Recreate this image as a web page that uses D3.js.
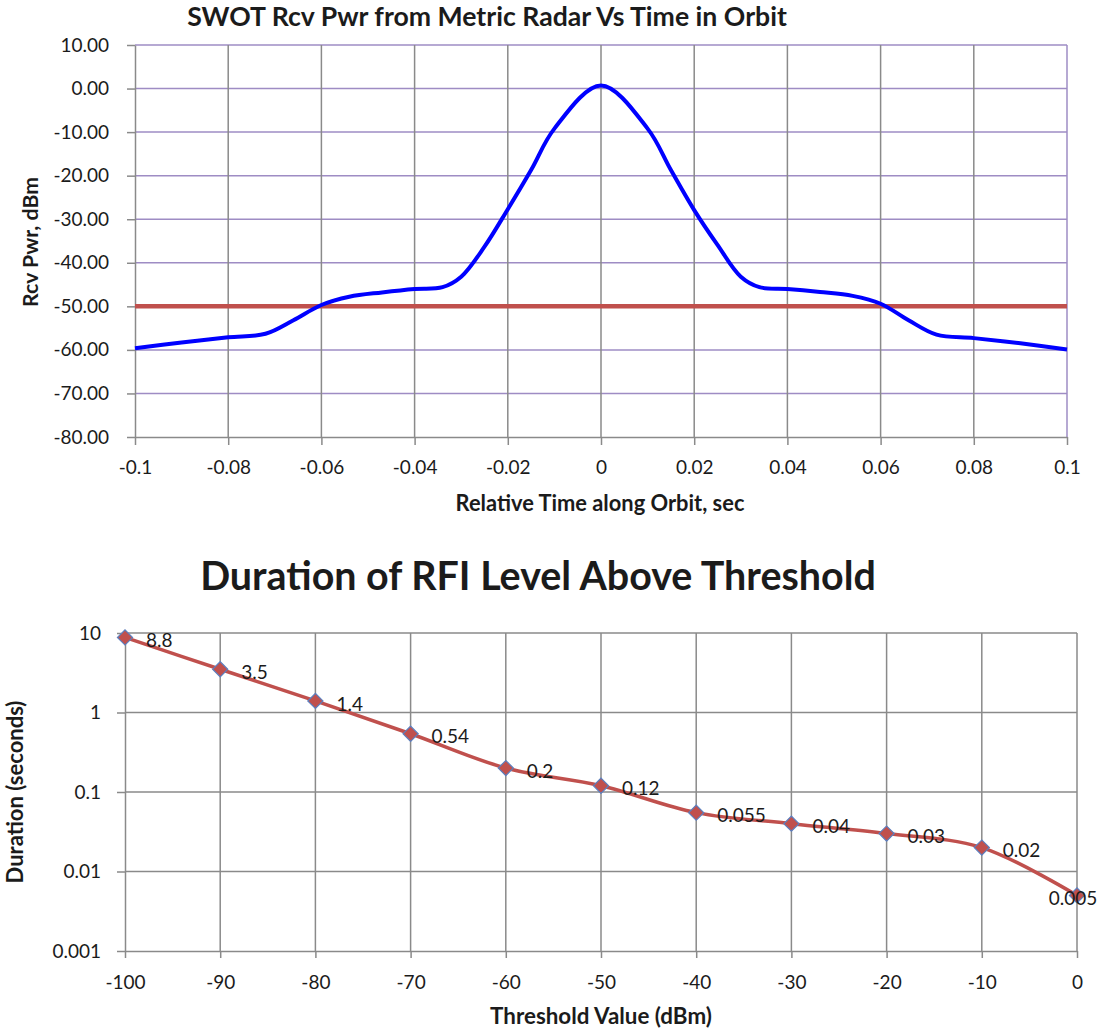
<!DOCTYPE html>
<html>
<head>
<meta charset="utf-8">
<script src="https://cdn.jsdelivr.net/npm/d3@7"></script>
<style>
body { margin: 0; background: #fff; }
text { font-family: Lato, "Noto Sans", sans-serif; fill: #1b1b1b; }
</style>
</head>
<body>
<svg id="chart" width="1104" height="1034"></svg>
<script>
// ---- top chart: received power vs time ----
var timeSec = [-0.1, -0.09, -0.08, -0.072, -0.066, -0.06, -0.054, -0.047, -0.04, -0.034, -0.03, -0.025, -0.02, -0.015, -0.01, 0,
	0.01, 0.015, 0.02, 0.025, 0.03, 0.034, 0.04, 0.047, 0.054, 0.06, 0.066, 0.072, 0.08, 0.09, 0.1];
var rcvPwr = [-59.6, -58.3, -57.1, -56.3, -53.2, -49.7, -47.8, -46.8, -46.0, -45.6, -43.2, -36.3, -27.7, -18.7, -9.2, 0.7,
	-9.2, -18.7, -27.9, -35.9, -43.2, -45.6, -46.0, -46.7, -47.6, -49.4, -53.2, -56.5, -57.3, -58.5, -59.9];
var thresholdTime = [-0.1, 0.1];
var thresholdPwr = [-50, -50];
var timeTicks = [-0.1, -0.08, -0.06, -0.04, -0.02, 0, 0.02, 0.04, 0.06, 0.08, 0.1];
var pwrTicks = [10, 0, -10, -20, -30, -40, -50, -60, -70, -80];

// ---- bottom chart: duration above threshold ----
var thresholdVals = [-100, -90, -80, -70, -60, -50, -40, -30, -20, -10, 0];
var durations = [8.8, 3.5, 1.4, 0.54, 0.2, 0.12, 0.055, 0.04, 0.03, 0.02, 0.005];
var durationLabels = ["8.8", "3.5", "1.4", "0.54", "0.2", "0.12", "0.055", "0.04", "0.03", "0.02", "0.005"];
var thresholdTicks = [-100, -90, -80, -70, -60, -50, -40, -30, -20, -10, 0];
var durationTicks = [10, 1, 0.1, 0.01, 0.001];
var durationTickLabels = ["10", "1", "0.1", "0.01", "0.001"];

var svg = d3.select("#chart");
var gridGray = "#8a8a8a";
var gridPurple = "#9e8cc4";
var fontSize = 19;

// scale a text's font so it spans a given width
function fitWidth(sel, w) {
	var len = sel.node().getComputedTextLength();
	var fs = parseFloat(sel.attr("font-size"));
	sel.attr("font-size", fs * w / len);
}

function styleAxis(g) {
	g.select(".domain").attr("stroke", gridGray).attr("stroke-width", 1.5);
	g.selectAll(".tick line").attr("stroke", gridGray).attr("stroke-width", 1.5);
	g.selectAll(".tick text").attr("font-size", fontSize).attr("fill", "#1b1b1b")
		.style("font-family", "Lato, 'Noto Sans', sans-serif");
}

/* ===================== TOP CHART ===================== */
var x1 = d3.scaleLinear().domain([-0.1, 0.1]).range([135, 1067]);
var y1 = d3.scaleLinear().domain([-80, 10]).range([437, 45]);

var gTop = svg.append("g");

// horizontal grid (purple)
gTop.selectAll(".hgrid").data(pwrTicks.filter(function (d) { return d != -80; }))
	.enter().append("line")
	.attr("x1", x1(-0.1)).attr("x2", x1(0.1))
	.attr("y1", function (d) { return y1(d); }).attr("y2", function (d) { return y1(d); })
	.attr("stroke", gridPurple).attr("stroke-width", 1.5);

// vertical grid (gray)
gTop.selectAll(".vgrid").data(timeTicks.filter(function (d) { return d != -0.1 && d != 0.1; }))
	.enter().append("line")
	.attr("x1", function (d) { return x1(d); }).attr("x2", function (d) { return x1(d); })
	.attr("y1", y1(10)).attr("y2", y1(-80))
	.attr("stroke", gridGray).attr("stroke-width", 1.5);

// right border
gTop.append("line")
	.attr("x1", x1(0.1)).attr("x2", x1(0.1)).attr("y1", y1(10)).attr("y2", y1(-80))
	.attr("stroke", gridPurple).attr("stroke-width", 1.5);

var yAx1 = gTop.append("g").attr("transform", "translate(" + x1(-0.1) + ",0)")
	.call(d3.axisLeft(y1).tickValues(pwrTicks).tickSize(8).tickSizeOuter(0).tickPadding(18)
		.tickFormat(function (d) { return d.toFixed(2); }));
styleAxis(yAx1);

var xAx1 = gTop.append("g").attr("transform", "translate(0," + y1(-80) + ")")
	.call(d3.axisBottom(x1).tickValues(timeTicks).tickSize(8).tickSizeOuter(0).tickPadding(16)
		.tickFormat(function (d) { return String(d); }));
styleAxis(xAx1);

// threshold line
var lineT = d3.line().x(function (d) { return x1(d[0]); }).y(function (d) { return y1(d[1]); });
gTop.append("path")
	.datum(d3.zip(thresholdTime, thresholdPwr))
	.attr("d", lineT)
	.attr("fill", "none").attr("stroke", "#c0504d").attr("stroke-width", 4.5);

// power curve
var lineP = d3.line().curve(d3.curveCatmullRom.alpha(0.5))
	.x(function (d) { return x1(d[0]); }).y(function (d) { return y1(d[1]); });
gTop.append("path")
	.datum(d3.zip(timeSec, rcvPwr))
	.attr("d", lineP)
	.attr("fill", "none").attr("stroke", "#0000ff").attr("stroke-width", 4)
	.attr("stroke-linejoin", "round");

var t1 = gTop.append("text").attr("x", 487).attr("y", 26).attr("text-anchor", "middle")
	.attr("font-weight", "bold").attr("font-size", 22)
	.text("SWOT Rcv Pwr from Metric Radar Vs Time in Orbit");
fitWidth(t1, 600);

var xl1 = gTop.append("text").attr("x", 600).attr("y", 511).attr("text-anchor", "middle")
	.attr("font-weight", "bold").attr("font-size", 17)
	.text("Relative Time along Orbit, sec");
fitWidth(xl1, 289);

var yl1 = gTop.append("text").attr("transform", "translate(38,242) rotate(-90)").attr("text-anchor", "middle")
	.attr("font-weight", "bold").attr("font-size", 17)
	.text("Rcv Pwr, dBm");
fitWidth(yl1, 130);

/* ===================== BOTTOM CHART ===================== */
var x2 = d3.scaleLinear().domain([-100, 0]).range([125, 1077]);
var y2 = d3.scaleLog().domain([0.001, 10]).range([951, 633]);

var gBot = svg.append("g");

gBot.selectAll(".hgrid").data(durationTicks.filter(function (d) { return d != 0.001; }))
	.enter().append("line")
	.attr("x1", x2(-100)).attr("x2", x2(0))
	.attr("y1", function (d) { return y2(d); }).attr("y2", function (d) { return y2(d); })
	.attr("stroke", gridGray).attr("stroke-width", 1.5);

gBot.selectAll(".vgrid").data(thresholdTicks.filter(function (d) { return d != -100; }))
	.enter().append("line")
	.attr("x1", function (d) { return x2(d); }).attr("x2", function (d) { return x2(d); })
	.attr("y1", y2(10)).attr("y2", y2(0.001))
	.attr("stroke", gridGray).attr("stroke-width", 1.5);

var yAx2 = gBot.append("g").attr("transform", "translate(" + x2(-100) + ",0)")
	.call(d3.axisLeft(y2).tickValues(durationTicks).tickSize(8).tickSizeOuter(0).tickPadding(16)
		.tickFormat(function (d, i) { return durationTickLabels[i]; }));
styleAxis(yAx2);

var xAx2 = gBot.append("g").attr("transform", "translate(0," + y2(0.001) + ")")
	.call(d3.axisBottom(x2).tickValues(thresholdTicks).tickSize(7).tickSizeOuter(0).tickPadding(18)
		.tickFormat(function (d) { return String(d); }));
styleAxis(xAx2);

var pts = d3.zip(thresholdVals, durations);
var lineD = d3.line().curve(d3.curveCatmullRom.alpha(0.5))
	.x(function (d) { return x2(d[0]); }).y(function (d) { return y2(d[1]); });
gBot.append("path").datum(pts).attr("d", lineD)
	.attr("fill", "none").attr("stroke", "#c0504d").attr("stroke-width", 3.5);

gBot.selectAll(".mark").data(pts).enter().append("path")
	.attr("d", d3.symbol().type(d3.symbolSquare).size(115))
	.attr("transform", function (d) { return "translate(" + x2(d[0]) + "," + y2(d[1]) + ") rotate(45)"; })
	.attr("fill", "#c0504d").attr("stroke", "#5b7fbf").attr("stroke-width", 1.2);

gBot.selectAll(".lbl").data(pts).enter().append("text")
	.attr("x", function (d, i) { return i == pts.length - 1 ? x2(d[0]) - 4 : x2(d[0]) + 21; })
	.attr("y", function (d) { return y2(d[1]) + 3; })
	.attr("dy", "0.35em")
	.attr("text-anchor", function (d, i) { return i == pts.length - 1 ? "middle" : "start"; })
	.attr("font-size", fontSize)
	.text(function (d, i) { return durationLabels[i]; });

var t2 = gBot.append("text").attr("x", 538).attr("y", 590).attr("text-anchor", "middle")
	.attr("font-weight", "bold").attr("font-size", 36)
	.text("Duration of RFI Level Above Threshold");
fitWidth(t2, 676);

var xl2 = gBot.append("text").attr("x", 601).attr("y", 1024).attr("text-anchor", "middle")
	.attr("font-weight", "bold").attr("font-size", 17)
	.text("Threshold Value (dBm)");
fitWidth(xl2, 222);

var yl2 = gBot.append("text").attr("transform", "translate(23,792) rotate(-90)").attr("text-anchor", "middle")
	.attr("font-weight", "bold").attr("font-size", 17)
	.text("Duration (seconds)");
fitWidth(yl2, 183);
</script>
</body>
</html>
